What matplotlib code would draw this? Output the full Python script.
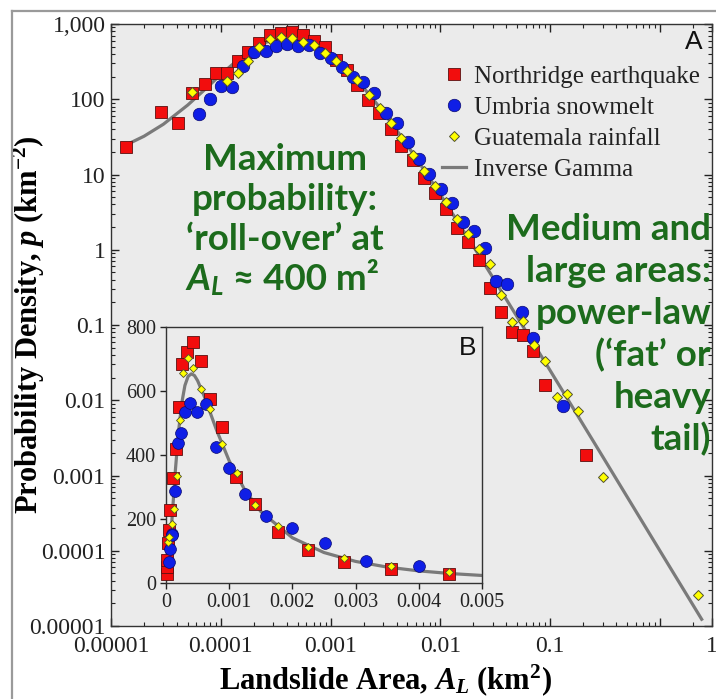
'''
Landslide area probability densities with inverse-gamma fit
'''
import matplotlib
matplotlib.use('Agg')
import matplotlib.pyplot as plt
from matplotlib.lines import Line2D
import numpy as np

plt.rcParams['font.family'] = 'serif'
plt.rcParams['font.serif'] = ['Liberation Serif', 'DejaVu Serif']
plt.rcParams['mathtext.fontset'] = 'custom'
plt.rcParams['mathtext.rm'] = 'Liberation Serif:bold'
plt.rcParams['mathtext.it'] = 'Liberation Serif:italic:bold'
plt.rcParams['mathtext.bf'] = 'Liberation Serif:bold'
plt.rcParams['mathtext.sf'] = 'Lato:italic:bold'

# Northridge earthquake, main panel (km2, km-2)
north_area = [1.37e-5, 2.85e-5, 4.1e-5, 5.5e-5, 7.2e-5, 9.0e-5, 1.13e-4, 1.43e-4,
              1.78e-4, 2.24e-4, 2.8e-4, 3.53e-4, 4.5e-4, 5.6e-4, 7.1e-4, 8.9e-4,
              1.12e-3, 1.4e-3, 1.75e-3, 2.2e-3, 2.78e-3, 3.55e-3, 4.4e-3, 5.6e-3,
              7.1e-3, 8.9e-3, 1.12e-2, 1.43e-2, 1.8e-2, 2.26e-2, 2.83e-2, 3.6e-2,
              4.5e-2, 5.7e-2, 7.0e-2, 8.97e-2, 0.21]
north_p = [23.4, 68, 48, 120, 158, 221, 225, 325, 421, 565, 714, 752, 775, 714, 600, 500,
           331, 245, 155, 97, 65, 40, 24, 15.8, 8.9, 5.6, 3.48, 1.96, 1.26, 0.73, 0.31,
           0.148, 0.0815, 0.0736, 0.0456, 0.016, 0.0019]

# Umbria snowmelt, main panel
umbria_area = [6.4e-5, 8.0e-5, 1.0e-4, 1.27e-4, 1.6e-4, 2.0e-4, 2.56e-4, 3.18e-4, 4.0e-4,
               5.1e-4, 6.4e-4, 8.0e-4, 1.0e-3, 1.26e-3, 1.59e-3, 1.99e-3, 2.5e-3, 3.2e-3,
               4.05e-3, 5.1e-3, 6.4e-3, 7.9e-3, 1.01e-2, 1.28e-2, 1.62e-2, 2.04e-2,
               2.55e-2, 3.2e-2, 4.06e-2, 5.5e-2, 7.0e-2, 0.13]
umbria_p = [63, 100, 150, 144, 277, 428, 443, 515, 537, 515, 526, 407, 350, 271, 200, 171,
            120, 66, 48.7, 27.3, 15.9, 10.2, 6.36, 4.14, 2.36, 1.77, 1.05, 0.385, 0.35,
            0.15, 0.0665, 0.0084]

# Guatemala rainfall, main panel
guat_area = [5.5e-5, 1.13e-4, 1.43e-4, 1.78e-4, 2.24e-4, 2.8e-4, 3.53e-4, 4.5e-4, 5.6e-4,
             7.1e-4, 8.9e-4, 1.12e-3, 1.41e-3, 1.74e-3, 2.25e-3, 2.8e-3, 3.55e-3, 4.4e-3,
             5.6e-3, 7.1e-3, 8.9e-3, 1.12e-2, 1.43e-2, 1.8e-2, 2.26e-2, 2.83e-2, 3.6e-2,
             4.46e-2, 5.7e-2, 7.1e-2, 8.97e-2, 0.115, 0.143, 0.18, 0.30, 2.23]
guat_p = [126, 177, 221, 320, 488, 626, 679, 646, 582, 526, 416, 325, 240, 180, 114, 76,
          48, 30.3, 18.2, 11.2, 7.0, 4.26, 2.54, 1.6, 1.01, 0.64, 0.25, 0.11, 0.114,
          0.054, 0.033, 0.011, 0.0121, 0.0072, 0.00096, 2.6e-5]

# inverse gamma curve
gamma_area = [0.0, 1.0e-5, 1.45e-5, 2e-5, 3e-5, 5e-5, 7e-5, 1e-4, 1.5e-4, 2e-4, 2.5e-4,
              3e-4, 3.5e-4, 4e-4, 4.5e-4, 5e-4, 6e-4, 7e-4, 8e-4, 1e-3, 1.25e-3, 1.5e-3,
              2e-3, 2.5e-3, 3e-3, 3.5e-3, 4e-3, 4.5e-3, 5e-3, 7e-3, 1e-2, 2e-2, 3e-2,
              0.1, 0.3, 1.0, 2.4]
gamma_p = [12.6, 21.0, 25.7, 32.3, 46.6, 83.8, 130.9, 213, 355, 475, 562, 617, 645, 653,
           648, 632, 586, 532, 478, 382, 290, 224, 142, 96, 68.3, 50.6, 38.8, 30.5, 24.5,
           11.9, 5.42, 1.11, 0.431, 0.0249, 0.0018, 1.0e-4, 1.23e-5]

# inset (linear axes)
in_north_area = [1.0e-5, 2.0e-5, 1.0e-5, 3.6e-5, 4.7e-5, 6.3e-5, 1.15e-4, 1.58e-4, 2.05e-4,
                 2.57e-4, 3.36e-4, 4.3e-4, 5.5e-4, 6.95e-4, 8.8e-4, 1.11e-3, 1.41e-3,
                 1.77e-3, 2.24e-3, 2.82e-3, 3.56e-3, 4.48e-3]
in_north_p = [28, 52, 72, 125, 166, 228, 329, 420, 550, 685, 721, 753, 693, 574, 488, 332,
              246, 161, 104, 67, 44, 28]
in_umbria_area = [4.7e-5, 6.3e-5, 9.0e-5, 1.0e-4, 1.42e-4, 1.85e-4, 2.32e-4, 3.0e-4,
                  3.79e-4, 4.85e-4, 6.27e-4, 7.85e-4, 9.95e-4, 1.25e-3, 1.58e-3, 2.0e-3,
                  2.51e-3, 3.17e-3, 4.0e-3]
in_umbria_p = [67, 106, 153, 150, 288, 438, 469, 533, 561, 533, 558, 426, 358, 280, 210,
               174, 125, 69, 55]
in_guat_area = [3.7e-5, 5.3e-5, 9.5e-5, 1.26e-4, 1.69e-4, 2.21e-4, 2.74e-4, 3.42e-4,
                4.31e-4, 5.48e-4, 6.95e-4, 8.8e-4, 1.12e-3, 1.41e-3, 1.77e-3, 2.24e-3,
                2.82e-3, 3.56e-3, 4.48e-3]
in_guat_p = [130, 145, 184, 231, 335, 508, 656, 701, 670, 607, 545, 434, 343, 244, 178,
             114, 78, 54, 36]

x_ticks = [1e-5, 1e-4, 1e-3, 1e-2, 1e-1, 1.0]
x_ticklabels = ['0.00001', '0.0001', '0.001', '0.01', '0.1', '']
y_ticks = [1e-5, 1e-4, 1e-3, 1e-2, 1e-1, 1, 10, 100, 1000]
y_ticklabels = ['0.00001', '0.0001', '0.001', '0.01', '0.1', '1', '10', '100', '1,000']
in_x_ticks = [0, 0.001, 0.002, 0.003, 0.004, 0.005]
in_x_ticklabels = ['0', '0.001', '0.002', '0.003', '0.004', '0.005']
in_y_ticks = [0, 200, 400, 600, 800]

left_note = ['Maximum', 'probability:', '\u2018roll-over\u2019 at']
rollover_area = r'$\mathsf{A_L}$'
rollover_value = ' \u2248 400 m\u00b2'
right_note = ['Medium and', 'large areas:', 'power-law', '(\u2018fat\u2019 or', 'heavy', 'tail)']

RED = '#f20d0d'
BLUE = '#0f1ee6'
YELLOW = '#ffff00'
GREY = '#7a7a7a'
GREEN = '#1c6b1c'
PANEL = '#ebebeb'
X_MAX = 2.98  # axis runs a little past 1 km2

gamma_area = np.array(gamma_area)
gamma_p = np.array(gamma_p)

fig = plt.figure(figsize=(7.16, 6.99), dpi=100)

# grey frame round the figure
fig.add_artist(Line2D([12 / 716, 1.0], [1 - 11 / 699, 1 - 11 / 699], color='#9a9a9a', lw=1.6))
fig.add_artist(Line2D([12 / 716, 12 / 716], [0.0, 1 - 11 / 699], color='#9a9a9a', lw=1.6))

ax = fig.add_axes([0.1550, 0.1044, 0.8394, 0.8612])
ax.set_facecolor(PANEL)
ax.set_xscale('log')
ax.set_yscale('log')

keep = gamma_area >= 1.45e-5
ax.plot(gamma_area[keep], gamma_p[keep], color=GREY, lw=2.3, zorder=2, label='Inverse Gamma')
ax.plot(north_area, north_p, 's', ms=8.5, mfc=RED, mec='#5a1010', mew=0.6, ls='none',
        zorder=3, label='Northridge earthquake')
ax.plot(umbria_area, umbria_p, 'o', ms=9, mfc=BLUE, mec='#0a0a70', mew=0.5, ls='none',
        zorder=4, label='Umbria snowmelt')
ax.plot(guat_area, guat_p, 'D', ms=5.2, mfc=YELLOW, mec='#505030', mew=0.7, ls='none',
        zorder=5, label='Guatemala rainfall')

ax.set_xlim(1e-5, X_MAX)
ax.set_ylim(1e-5, 1e3)
ax.set_xticks(x_ticks + [X_MAX])
ax.set_xticklabels(x_ticklabels + ['1'])
ax.set_yticks(y_ticks)
ax.set_yticklabels(y_ticklabels)
ax.tick_params(which='both', direction='in', top=True, right=True, colors='#222222',
               labelsize=17, pad=4)
ax.tick_params(axis='x', which='both', pad=7.5)
ax.tick_params(which='major', length=5.5, width=1)
ax.tick_params(which='minor', length=3, width=0.8)
for s in ax.spines.values():
    s.set_color('#333333')
    s.set_linewidth(1.0)

ax.set_xlabel(r'Landslide Area, $A_L$ (km$^2$)', fontsize=22, fontweight='bold')
ax.set_ylabel(r'Probability Density, $p$ (km$^{-2}$)', fontsize=22, fontweight='bold')
ax.xaxis.set_label_coords(0.456, -0.060)
ax.yaxis.set_label_coords(-0.107, 0.5)

handles, labels = ax.get_legend_handles_labels()
order = [1, 2, 3, 0]
ax.legend([handles[i] for i in order], [labels[i] for i in order], loc='upper left',
          bbox_to_anchor=(0.5507, 0.931), frameon=False, fontsize=18, borderpad=0,
          borderaxespad=0, handlelength=0.95, handletextpad=0.35, labelspacing=0.34,
          labelcolor='#222222')

ax.text(0.970, 0.970, 'A', transform=ax.transAxes, ha='center', va='center',
        fontsize=19, family='Liberation Sans', color='#111111')

note_font = dict(family=['Lato', 'DejaVu Sans'], fontweight='bold', fontsize=26.5, color=GREEN)
for i, line in enumerate(left_note):
    ax.text(0.2895, 0.7575 - i * 0.0665, line, transform=ax.transAxes, ha='center',
            va='baseline', zorder=6, **note_font)
ax.text(0.1880, 0.7575 - 3 * 0.0665, rollover_area, transform=ax.transAxes, ha='right',
        va='baseline', zorder=6, **note_font)
ax.text(0.1880, 0.7575 - 3 * 0.0665, rollover_value, transform=ax.transAxes, ha='left',
        va='baseline', zorder=6, **note_font)
for i, line in enumerate(right_note):
    ax.text(0.9983, 0.641 - i * 0.0697, line, transform=ax.transAxes, ha='right',
            va='baseline', zorder=6, **note_font)

# inset B
ins = fig.add_axes([0.2318, 0.1655, 0.4413, 0.3671])
ins.set_facecolor(PANEL)
ins.plot(gamma_area, gamma_p, color=GREY, lw=2.3, zorder=2)
ins.plot(in_north_area, in_north_p, 's', ms=8, mfc=RED, mec='#5a1010', mew=0.6,
         ls='none', zorder=3, clip_on=False)
ins.plot(in_umbria_area, in_umbria_p, 'o', ms=8.5, mfc=BLUE, mec='#0a0a70', mew=0.5,
         ls='none', zorder=4, clip_on=False)
ins.plot(in_guat_area, in_guat_p, 'D', ms=4.2, mfc=YELLOW, mec='#505030', mew=0.6,
         ls='none', zorder=5, clip_on=False)
ins.set_xlim(0, 0.005)
ins.set_ylim(0, 800)
ins.set_xticks(in_x_ticks)
ins.set_xticklabels(in_x_ticklabels)
ins.set_yticks(in_y_ticks)
ins.tick_params(direction='out', length=4, width=1, labelsize=14.5, colors='#222222', pad=3)
for s in ins.spines.values():
    s.set_color('#333333')
    s.set_linewidth(1.0)
ins.text(0.956, 0.917, 'B', transform=ins.transAxes, ha='center', va='center',
         fontsize=19, family='Liberation Sans', color='#111111')

plt.savefig('out.png', dpi=100)
